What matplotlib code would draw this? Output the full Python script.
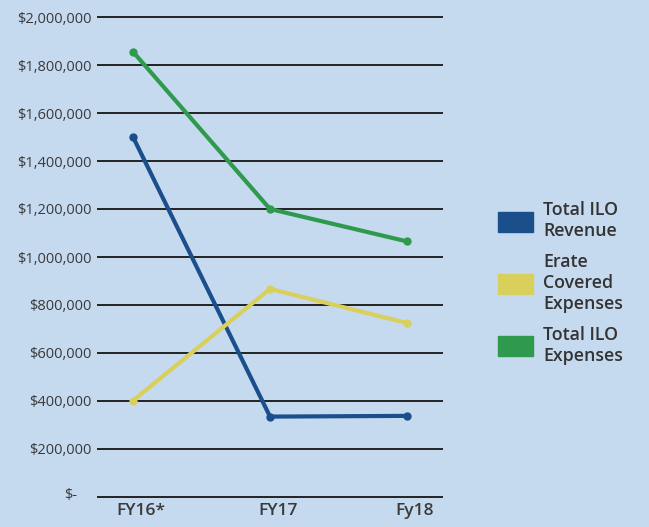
import matplotlib
matplotlib.use("Agg")
import matplotlib.pyplot as plt
import matplotlib.transforms as mtransforms
from matplotlib.patches import Patch

plt.rcParams['font.family'] = ['Open Sans', 'DejaVu Sans']

# data
years = ["FY16*", "FY17", "Fy18"]
revenue = [1500000, 335000, 338000]
erate = [402000, 867000, 725000]
expenses = [1855000, 1200000, 1065000]
tick_vals = [0, 200000, 400000, 600000, 800000, 1000000, 1200000, 1400000,
             1600000, 1800000, 2000000]
tick_labels = ["$-"] + ["${:,}".format(v) for v in tick_vals[1:]]

bg = "#c6daef"
c_rev = "#1b4f8c"
c_erate = "#d9d05c"
c_exp = "#2f9a4d"

fig = plt.figure(figsize=(6.49, 5.27), dpi=100, facecolor=bg)
ax = fig.add_axes([97 / 649, (527 - 501.8) / 527, 346 / 649, 489.6 / 527])
ax.set_facecolor(bg)

x = list(range(len(years)))
for v in tick_vals:
    ax.axhline(v, color="#222222", lw=1.4, zorder=1)

ax.plot(x, revenue, color=c_rev, lw=3, marker="o", ms=5, zorder=3)
ax.plot(x, erate, color=c_erate, lw=3, marker="o", ms=5, zorder=3)
ax.plot(x, expenses, color=c_exp, lw=3, marker="o", ms=5, zorder=3)

ax.set_xlim(-0.263, 2.263)
ax.set_ylim(-20000, 2020000)
ax.set_yticks(tick_vals)
ax.set_yticklabels(tick_labels, fontsize=10.5, color="#3a3a3a")
ax.set_xticks(x)
ax.set_xticklabels(years, fontsize=12.5, fontweight="semibold", color="#3a3a3a")
ax.tick_params(axis="both", length=0)
ax.tick_params(axis="y", pad=4)
ax.tick_params(axis="x", pad=1)
for s in ax.spines.values():
    s.set_visible(False)

# the labels sit a little right of the points in the original
shift = mtransforms.ScaledTranslation(8 / 100, 0, fig.dpi_scale_trans)
for lab in ax.get_xticklabels():
    lab.set_transform(lab.get_transform() + shift)
# "$-" label sits further left and a bit higher
zero_shift = mtransforms.ScaledTranslation(-14 / 100, 3 / 100, fig.dpi_scale_trans)
zl = ax.get_yticklabels()[0]
zl.set_transform(zl.get_transform() + zero_shift)

handles = [Patch(color=c_rev), Patch(color=c_erate), Patch(color=c_exp)]
labels = ["Total ILO\nRevenue", "Erate\nCovered\nExpenses", "Total ILO\nExpenses"]
leg = fig.legend(handles, labels, loc="center left", bbox_to_anchor=(0.767, 0.463),
                 frameon=False, labelcolor="#333333",
                 handlelength=2.0, handleheight=1.3, handletextpad=0.55,
                 labelspacing=0.7, borderaxespad=0, borderpad=0,
                 prop={"family": "Open Sans", "weight": "semibold", "size": 12.8})
for t in leg.get_texts():
    t.set_linespacing(1.22)

fig.savefig("out.png", dpi=100, facecolor=bg)
